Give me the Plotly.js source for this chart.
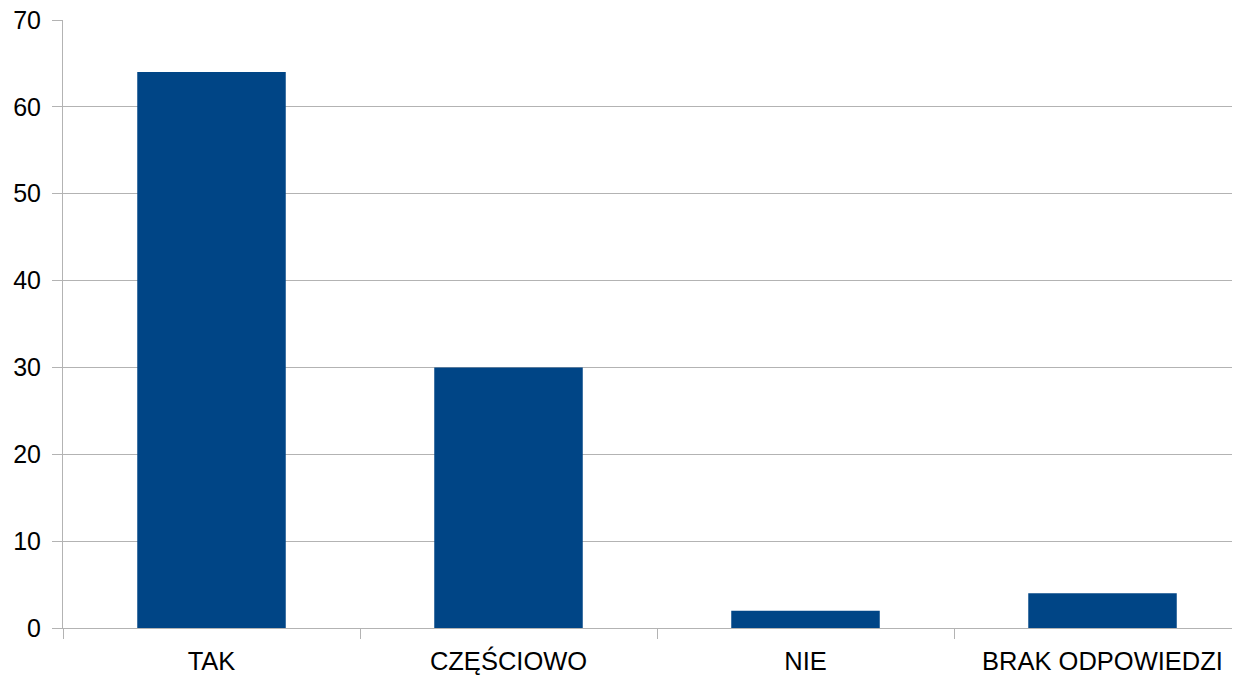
<!DOCTYPE html>
<html>
<head>
<meta charset="utf-8">
<script src="https://cdn.plot.ly/plotly-3.0.1.min.js"></script>
<style>html,body{margin:0;padding:0;background:#fff;overflow:hidden;}#chart{width:1233px;height:677px;}</style>
</head>
<body>
<div id="chart"></div>
<script>
const categories = ["TAK", "CZĘŚCIOWO", "NIE", "BRAK ODPOWIEDZI"];
const values = [64, 30, 2, 4];
const yTicks = [0, 10, 20, 30, 40, 50, 60, 70];

const trace = {
  type: "bar",
  x: categories,
  y: values,
  width: 0.5,
  marker: {color: "#004586"},
  hoverinfo: "x+y"
};

const layout = {
  width: 1233,
  height: 677,
  margin: {l: 63, r: 1, t: 20, b: 49, pad: 0},
  paper_bgcolor: "#ffffff",
  plot_bgcolor: "#ffffff",
  showlegend: false,
  font: {family: "Liberation Sans, Arial, sans-serif", color: "#000000"},
  xaxis: {
    type: "category",
    range: [-0.5, 3.436],
    tickson: "boundaries",
    ticks: "outside",
    ticklen: 10,
    tickwidth: 1,
    tickcolor: "#b3b3b3",
    showgrid: false,
    showline: true,
    linecolor: "#b3b3b3",
    linewidth: 1,
    ticklabelstandoff: 10,
    tickfont: {size: 25.5, family: "Liberation Sans, Arial, sans-serif", color: "#000"},
    fixedrange: true
  },
  yaxis: {
    range: [0, 70],
    tickvals: yTicks,
    ticks: "outside",
    ticklen: 10,
    tickwidth: 1,
    tickcolor: "#b3b3b3",
    showgrid: true,
    gridcolor: "#b3b3b3",
    gridwidth: 1,
    zeroline: false,
    showline: true,
    linecolor: "#b3b3b3",
    linewidth: 1,
    ticklabelstandoff: 6,
    tickfont: {size: 25, family: "Liberation Sans, Arial, sans-serif", color: "#000"},
    fixedrange: true
  }
};

Plotly.newPlot("chart", [trace], layout, {displayModeBar: false, staticPlot: true});
</script>
</body>
</html>
